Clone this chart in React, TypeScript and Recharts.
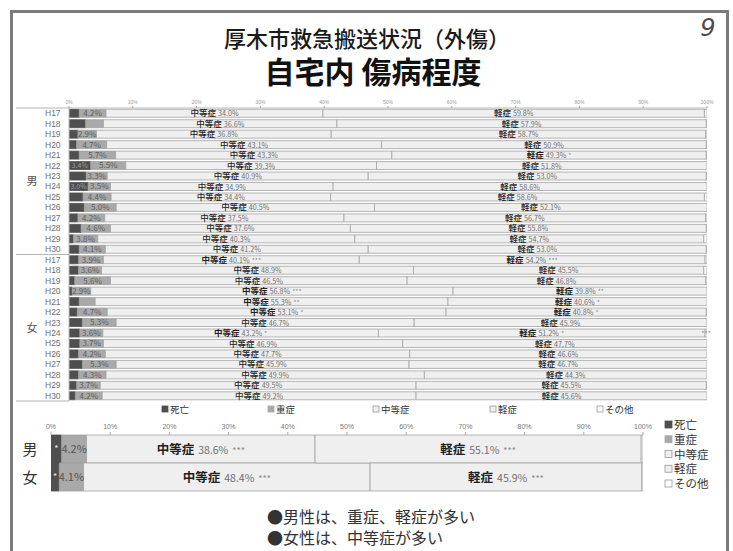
import React from 'react';
import { BarChart, Bar, XAxis, YAxis, LabelList } from 'recharts';

const FONT = "'Noto Sans CJK JP', 'Noto Sans', sans-serif";
const LATIN = "'Liberation Sans', 'DejaVu Sans', sans-serif";

// ---- series ----
const SERIES = ['死亡', '重症', '中等症', '軽症', 'その他'];
const SERIES_FILL = ['#4f4f4f', '#a9a9a9', '#efefef', '#efefef', '#ffffff'];
const SERIES_STROKE = ['#4f4f4f', '#a0a0a0', '#a3a3a3', '#a3a3a3', '#a3a3a3'];

// ---- yearly rows ----
const GROUPS = ['男', '女'];
const YEARS = ['H17', 'H18', 'H19', 'H20', 'H21', 'H22', 'H23', 'H24', 'H25', 'H26', 'H27', 'H28', 'H29', 'H30'];
const PCT_TICKS = [0, 10, 20, 30, 40, 50, 60, 70, 80, 90, 100];

const MEN_DEATH = [1.6, 2.6, 1.4, 1.2, 1.6, 3.4, 2.7, 3.0, 2.2, 2.4, 1.4, 1.9, 0.7, 1.6];
const MEN_SEVERE = [4.2, 2.8, 2.9, 4.7, 5.7, 5.5, 3.3, 3.5, 4.4, 5.0, 4.2, 4.6, 3.8, 4.1];
const MEN_MODERATE = [34.0, 36.6, 36.8, 43.1, 43.3, 39.3, 40.9, 34.9, 34.4, 40.5, 37.5, 37.6, 40.3, 41.2];
const MEN_MILD = [59.8, 57.9, 58.7, 50.9, 49.3, 51.8, 53.0, 58.6, 58.6, 52.1, 56.7, 55.8, 54.7, 53.0];
const MEN_OTHER = [0.4, 0.1, 0.2, 0.1, 0.1, 0, 0.1, 0, 0.4, 0, 0.2, 0.1, 0.5, 0.1];
const MEN_DEATH_SHOWN = [false, false, false, false, false, true, false, true, false, false, false, false, false, false];
const MEN_SEVERE_SHOWN = [true, false, true, true, true, true, true, true, true, true, true, true, true, true];
const MEN_MODERATE_SIG = ['', '', '', '', '', '', '', '', '', '', '', '', '', ''];
const MEN_MILD_SIG = ['', '', '', '', '*', '', '', '', '', '', '', '', '', ''];
const MEN_OTHER_MARK = ['', '', '', '', '', '', '', '', '', '', '', '', '', ''];

const WOMEN_DEATH = [1.5, 1.5, 0.9, 0.5, 1.6, 1.3, 2.1, 1.7, 1.7, 1.5, 2.1, 1.5, 1.2, 1.0];
const WOMEN_SEVERE = [3.9, 3.6, 5.6, 2.9, 2.5, 4.7, 5.3, 3.6, 3.7, 4.2, 5.3, 4.3, 3.7, 4.2];
const WOMEN_MODERATE = [40.1, 48.9, 46.5, 56.8, 55.3, 53.1, 46.7, 43.2, 46.9, 47.7, 45.9, 49.9, 49.5, 49.2];
const WOMEN_MILD = [54.2, 45.5, 46.8, 39.8, 40.6, 40.8, 45.9, 51.2, 47.7, 46.6, 46.7, 44.3, 45.5, 45.6];
const WOMEN_OTHER = [0.3, 0.5, 0.2, 0, 0, 0.1, 0, 0.3, 0, 0, 0, 0, 0.1, 0];
const WOMEN_DEATH_SHOWN = [false, false, false, false, false, false, false, false, false, false, false, false, false, false];
const WOMEN_SEVERE_SHOWN = [true, true, true, true, false, true, true, true, true, true, true, true, true, true];
const WOMEN_MODERATE_SIG = ['***', '', '', '***', '**', '*', '', '*', '', '', '', '', '', ''];
const WOMEN_MILD_SIG = ['***', '', '', '**', '*', '*', '', '*', '', '', '', '', '', ''];
const WOMEN_OTHER_MARK = ['', '***', '', '', '', '', '', '', '', '', '', '', '', ''];

// ---- totals ----
const SUM_DEATH = [1.8, 1.4];
const SUM_SEVERE = [4.2, 4.1];
const SUM_MODERATE = [38.6, 48.4];
const SUM_MILD = [55.1, 45.9];
const SUM_OTHER = [0.3, 0.2];
const SUM_DEATH_MARK = ['*', '*'];
const SUM_MODERATE_SIG = ['***', '***'];
const SUM_MILD_SIG = ['***', '***'];

const NOTES = ['●男性は、重症、軽症が多い', '●女性は、中等症が多い'];

type Row = {
  key: string;
  label: string;
  group: string;
  death: number;
  severe: number;
  moderate: number;
  mild: number;
  other: number;
  deathShown: boolean;
  severeShown: boolean;
  moderateSig: string;
  mildSig: string;
  otherMark: string;
};

const groupRows = (
  group: string,
  death: number[],
  severe: number[],
  moderate: number[],
  mild: number[],
  other: number[],
  deathShown: boolean[],
  severeShown: boolean[],
  moderateSig: string[],
  mildSig: string[],
  otherMark: string[],
): Row[] =>
  YEARS.map((y, i) => ({
    key: group + y,
    label: y,
    group,
    death: death[i],
    severe: severe[i],
    moderate: moderate[i],
    mild: mild[i],
    other: other[i],
    deathShown: deathShown[i],
    severeShown: severeShown[i],
    moderateSig: moderateSig[i],
    mildSig: mildSig[i],
    otherMark: otherMark[i],
  }));

const TOP_ROWS: Row[] = [
  ...groupRows(GROUPS[0], MEN_DEATH, MEN_SEVERE, MEN_MODERATE, MEN_MILD, MEN_OTHER, MEN_DEATH_SHOWN, MEN_SEVERE_SHOWN, MEN_MODERATE_SIG, MEN_MILD_SIG, MEN_OTHER_MARK),
  ...groupRows(GROUPS[1], WOMEN_DEATH, WOMEN_SEVERE, WOMEN_MODERATE, WOMEN_MILD, WOMEN_OTHER, WOMEN_DEATH_SHOWN, WOMEN_SEVERE_SHOWN, WOMEN_MODERATE_SIG, WOMEN_MILD_SIG, WOMEN_OTHER_MARK),
];

const SUM_ROWS: Row[] = GROUPS.map((g, i) => ({
  key: g,
  label: g,
  group: g,
  death: SUM_DEATH[i],
  severe: SUM_SEVERE[i],
  moderate: SUM_MODERATE[i],
  mild: SUM_MILD[i],
  other: SUM_OTHER[i],
  deathShown: true,
  severeShown: true,
  moderateSig: SUM_MODERATE_SIG[i],
  mildSig: SUM_MILD_SIG[i],
  otherMark: SUM_DEATH_MARK[i],
}));

// ---- layout ----
const W = 733;
const H = 551;
const TOP_H = 410;
const TOP_MARGIN = { top: 98, right: 26, bottom: 9, left: 0 };
const TOP_YAXIS_W = 69;
const TOP_XAXIS_H = 10;
const TOP_PLOT_H = TOP_H - TOP_MARGIN.top - TOP_XAXIS_H - TOP_MARGIN.bottom;
const TOP_BAND = TOP_PLOT_H / TOP_ROWS.length;

const SUM_TOP = 400;
const SUM_H = 100;
const SUM_MARGIN = { top: 24, right: 90, bottom: 9, left: 0 };
const SUM_YAXIS_W = 51;
const SUM_XAXIS_H = 11;

const num = (v: unknown) => Number(v) || 0;

type Sizes = { name: number; num: number; sig: number; gap: number };

// "中等症 40.1% ***" style label centred on its segment
const namedLabel = (rows: Row[], key: 'moderate' | 'mild', name: string, sigKey: 'moderateSig' | 'mildSig', s: Sizes) =>
  (p: any) => {
    const row = rows[p.index];
    if (!row) return null;
    const x = num(p.x), y = num(p.y), w = num(p.width), h = num(p.height);
    const sig = row[sigKey];
    return (
      <text x={x + w / 2} y={y + h / 2 + s.name * 0.36} textAnchor="middle" fontFamily={FONT}>
        <tspan fontSize={s.name} fill="#1f1f1f" fontWeight={sig ? 700 : 500}>{name}</tspan>
        <tspan fontSize={s.num} fill="#6f6f6f" dx={s.gap}>{row[key].toFixed(1)}%</tspan>
        {sig ? <tspan fontSize={s.sig} fill="#8a8a8a" dx={s.gap}>{sig}</tspan> : null}
      </text>
    );
  };

// plain percentage label centred on its segment
const valueLabel = (rows: Row[], key: 'death' | 'severe', shownKey: 'deathShown' | 'severeShown', size: number, fill: string) =>
  (p: any) => {
    const row = rows[p.index];
    if (!row || !row[shownKey]) return null;
    const x = num(p.x), y = num(p.y), w = num(p.width), h = num(p.height);
    return (
      <text x={x + w / 2} y={y + h / 2 + size * 0.36} textAnchor="middle" fontFamily={FONT} fontSize={size} fill={fill}>
        {row[key].toFixed(1)}%
      </text>
    );
  };

// free-standing mark (stars) centred on a segment
const markLabel = (rows: Row[], size: number, fill: string) =>
  (p: any) => {
    const row = rows[p.index];
    if (!row || !row.otherMark) return null;
    const x = num(p.x), y = num(p.y), w = num(p.width), h = num(p.height);
    return (
      <text x={x + w / 2} y={y + h / 2 + size * 0.36} textAnchor="middle" fontFamily={FONT} fontSize={size} fill={fill}>
        {row.otherMark}
      </text>
    );
  };

const TopYTick = (p: any) => {
  const i = TOP_ROWS.findIndex((r) => r.key === p.payload?.value);
  if (i < 0) return null;
  const row = TOP_ROWS[i];
  const y = num(p.y);
  const yi = i % YEARS.length;
  const plotLeft = TOP_MARGIN.left + TOP_YAXIS_W;
  return (
    <g>
      <text x={45} y={y + 3} fontSize={8.5} fill="#707070" fontFamily={LATIN}>{row.label}</text>
      {yi === 0 ? <line x1={16} x2={plotLeft} y1={y - TOP_BAND / 2} y2={y - TOP_BAND / 2} stroke="#b4b4b4" /> : null}
      {yi === YEARS.length - 1 ? <line x1={16} x2={plotLeft} y1={y + TOP_BAND / 2} y2={y + TOP_BAND / 2} stroke="#b4b4b4" /> : null}
      {yi === 6 ? (
        <text x={32} y={y + TOP_BAND / 2 + 4} textAnchor="middle" fontSize={11} fill="#555" fontFamily={FONT}>{row.group}</text>
      ) : null}
    </g>
  );
};

const SumYTick = (p: any) => (
  <text x={30} y={num(p.y) + 5.5} textAnchor="middle" fontSize={15} fill="#333" fontFamily={FONT}>
    {p.payload?.value}
  </text>
);

const TOP_LEGEND_X = [162, 268, 373, 490, 597];
const SIDE_LEGEND_Y = [425, 439.75, 454.5, 469.25, 484];

export default function App() {
  const topNamed: Sizes = { name: 8.5, num: 7.2, sig: 6.8, gap: 2 };
  const sumNamed: Sizes = { name: 12.5, num: 10.5, sig: 9, gap: 4 };
  return (
    <div style={{ position: 'absolute', left: 0, top: 0, width: W, height: H, background: '#fff', overflow: 'hidden' }}>
      <svg width={W} height={H} style={{ position: 'absolute', left: 0, top: 0 }}>
        <rect x={11.5} y={11.5} width={716} height={620} fill="none" stroke="#7b7b7b" strokeWidth={3} />
        <text x={367} y={47} textAnchor="middle" fontFamily={FONT} fontSize={22} fontWeight={500} fill="#1a1a1a">
          厚木市救急搬送状況（外傷）
        </text>
        <text x={373} y={83} textAnchor="middle" fontFamily={FONT} fontSize={30} fontWeight={700} fill="#111">
          自宅内 傷病程度
        </text>
        <text x={708} y={36} textAnchor="middle" fontFamily="'DejaVu Sans', sans-serif" fontStyle="italic" fontSize={24} fill="#4a4a4a">
          9
        </text>
        {SERIES.map((s, i) => (
          <g key={'tl' + s}>
            <rect x={TOP_LEGEND_X[i]} y={406} width={6} height={6} fill={SERIES_FILL[i]} stroke={i < 2 ? SERIES_FILL[i] : '#999'} strokeWidth={0.8} />
            <text x={TOP_LEGEND_X[i] + 8} y={412.5} fontFamily={FONT} fontSize={9.5} fill="#333">{s}</text>
          </g>
        ))}
        {SERIES.map((s, i) => (
          <g key={'sl' + s}>
            <rect x={665} y={SIDE_LEGEND_Y[i] - 4} width={7} height={7} fill={SERIES_FILL[i]} stroke={i < 2 ? SERIES_FILL[i] : '#999'} strokeWidth={0.8} />
            <text x={674} y={SIDE_LEGEND_Y[i] + 4.2} fontFamily={FONT} fontSize={11.5} fill="#333">{s}</text>
          </g>
        ))}
        {NOTES.map((t, i) => (
          <text key={t} x={267} y={523 + i * 21} fontFamily={FONT} fontSize={16} fill="#333">{t}</text>
        ))}
      </svg>

      <div style={{ position: 'absolute', left: 0, top: 0 }}>
        <BarChart
          width={W}
          height={TOP_H}
          data={TOP_ROWS}
          layout="vertical"
          margin={TOP_MARGIN}
          barCategoryGap="12%"
        >
          <XAxis
            type="number"
            orientation="top"
            domain={[0, 100]}
            ticks={PCT_TICKS}
            tickFormatter={(v: number) => v + '%'}
            height={TOP_XAXIS_H}
            tickSize={2}
            tickMargin={2}
            axisLine={{ stroke: '#bbb' }}
            tickLine={{ stroke: '#aaa' }}
            tick={{ fontSize: 5, fill: '#999', fontFamily: LATIN }}
            allowDataOverflow
          />
          <YAxis
            type="category"
            dataKey="key"
            width={TOP_YAXIS_W}
            interval={0}
            tickLine={false}
            axisLine={{ stroke: '#bbb' }}
            tick={<TopYTick />}
          />
          <Bar dataKey="death" stackId="s" fill={SERIES_FILL[0]} stroke={SERIES_STROKE[0]} strokeWidth={0.8} isAnimationActive={false}>
            <LabelList dataKey="death" content={valueLabel(TOP_ROWS, 'death', 'deathShown', 7, '#9a9a9a')} />
          </Bar>
          <Bar dataKey="severe" stackId="s" fill={SERIES_FILL[1]} stroke={SERIES_STROKE[1]} strokeWidth={0.8} isAnimationActive={false}>
            <LabelList dataKey="severe" content={valueLabel(TOP_ROWS, 'severe', 'severeShown', 8, '#5e5e5e')} />
          </Bar>
          <Bar dataKey="moderate" stackId="s" fill={SERIES_FILL[2]} stroke={SERIES_STROKE[2]} strokeWidth={0.8} isAnimationActive={false}>
            <LabelList dataKey="moderate" content={namedLabel(TOP_ROWS, 'moderate', SERIES[2], 'moderateSig', topNamed)} />
          </Bar>
          <Bar dataKey="mild" stackId="s" fill={SERIES_FILL[3]} stroke={SERIES_STROKE[3]} strokeWidth={0.8} isAnimationActive={false}>
            <LabelList dataKey="mild" content={namedLabel(TOP_ROWS, 'mild', SERIES[3], 'mildSig', topNamed)} />
          </Bar>
          <Bar dataKey="other" stackId="s" fill={SERIES_FILL[4]} stroke={SERIES_STROKE[4]} strokeWidth={0.8} isAnimationActive={false}>
            <LabelList dataKey="other" content={markLabel(TOP_ROWS, 7, '#8a8a8a')} />
          </Bar>
        </BarChart>
      </div>

      <div style={{ position: 'absolute', left: 0, top: SUM_TOP }}>
        <BarChart
          width={W}
          height={SUM_H}
          data={SUM_ROWS}
          layout="vertical"
          margin={SUM_MARGIN}
          barCategoryGap={0}
        >
          <XAxis
            type="number"
            orientation="top"
            domain={[0, 100]}
            ticks={PCT_TICKS}
            tickFormatter={(v: number) => v + '%'}
            height={SUM_XAXIS_H}
            tickSize={3}
            tickMargin={3}
            axisLine={false}
            tickLine={{ stroke: '#aaa' }}
            tick={{ fontSize: 7, fill: '#777', fontFamily: LATIN }}
            allowDataOverflow
          />
          <YAxis
            type="category"
            dataKey="key"
            width={SUM_YAXIS_W}
            interval={0}
            tickLine={false}
            axisLine={false}
            tick={<SumYTick />}
          />
          <Bar dataKey="death" stackId="t" fill={SERIES_FILL[0]} stroke={SERIES_STROKE[0]} strokeWidth={0.8} isAnimationActive={false}>
            <LabelList dataKey="death" content={markLabel(SUM_ROWS, 9, '#e6e6e6')} />
          </Bar>
          <Bar dataKey="severe" stackId="t" fill={SERIES_FILL[1]} stroke={SERIES_STROKE[1]} strokeWidth={0.8} isAnimationActive={false}>
            <LabelList dataKey="severe" content={valueLabel(SUM_ROWS, 'severe', 'severeShown', 11, '#555')} />
          </Bar>
          <Bar dataKey="moderate" stackId="t" fill={SERIES_FILL[2]} stroke={SERIES_STROKE[2]} strokeWidth={0.8} isAnimationActive={false}>
            <LabelList dataKey="moderate" content={namedLabel(SUM_ROWS, 'moderate', SERIES[2], 'moderateSig', sumNamed)} />
          </Bar>
          <Bar dataKey="mild" stackId="t" fill={SERIES_FILL[3]} stroke={SERIES_STROKE[3]} strokeWidth={0.8} isAnimationActive={false}>
            <LabelList dataKey="mild" content={namedLabel(SUM_ROWS, 'mild', SERIES[3], 'mildSig', sumNamed)} />
          </Bar>
          <Bar dataKey="other" stackId="t" fill={SERIES_FILL[4]} stroke={SERIES_STROKE[4]} strokeWidth={0.8} isAnimationActive={false} />
        </BarChart>
      </div>
    </div>
  );
}
